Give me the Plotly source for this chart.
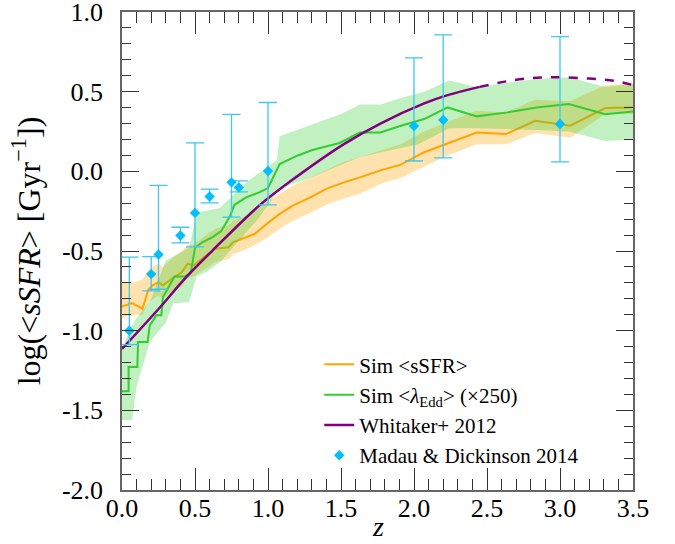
import plotly.graph_objects as go

# ---------------- data ----------------
# Sim <sSFR> (orange) mean line and band
ssfr_z = [0.00, 0.07, 0.14, 0.18, 0.21, 0.25, 0.28, 0.35, 0.41, 0.45, 0.49, 0.53, 0.59, 0.64,
          0.73, 0.76, 0.85, 0.91, 0.99, 1.08, 1.17, 1.29, 1.40, 1.52, 1.63, 1.77, 1.91, 2.07,
          2.23, 2.43, 2.63, 2.83, 3.07, 3.31, 3.50]
ssfr_v = [-0.848, -0.827, -0.862, -0.743, -0.716, -0.695, -0.716, -0.668, -0.633, -0.580,
          -0.591, -0.560, -0.518, -0.486, -0.476, -0.445, -0.413, -0.392, -0.330, -0.267,
          -0.215, -0.163, -0.110, -0.069, -0.038, 0.006, 0.042, 0.120, 0.175, 0.244, 0.234,
          0.317, 0.286, 0.397, 0.401]
ssfr_hi = [-0.69, -0.70, -0.68, -0.62, -0.60, -0.58, -0.60, -0.54, -0.50, -0.46, -0.46, -0.43,
           -0.39, -0.36, -0.34, -0.31, -0.28, -0.25, -0.20, -0.14, -0.09, -0.04, 0.01, 0.06,
           0.09, 0.13, 0.17, 0.25, 0.31, 0.38, 0.37, 0.45, 0.44, 0.54, 0.55]
ssfr_lo = [-0.92, -0.90, -0.90, -0.82, -0.80, -0.78, -0.80, -0.75, -0.72, -0.67, -0.66, -0.64,
           -0.60, -0.57, -0.55, -0.52, -0.49, -0.46, -0.42, -0.36, -0.31, -0.26, -0.21, -0.17,
           -0.14, -0.08, -0.04, 0.03, 0.10, 0.17, 0.17, 0.24, 0.21, 0.36, 0.36]

# Sim <lambda_Edd> (x250) (green) mean line
edd_z = [0.00, 0.045, 0.045, 0.105, 0.11, 0.175, 0.19, 0.235, 0.27, 0.28, 0.36, 0.43, 0.47,
         0.50, 0.55, 0.62, 0.68, 0.74, 0.77, 0.85, 0.94, 1.00, 1.08, 1.20, 1.29, 1.33, 1.49,
         1.63, 1.77, 1.91, 2.07, 2.23, 2.43, 2.64, 2.84, 3.06, 3.31, 3.50]
edd_v = [-1.38, -1.38, -1.228, -1.228, -1.071, -1.071, -0.967, -0.904, -0.904, -0.79, -0.66,
         -0.66, -0.64, -0.48, -0.445, -0.413, -0.375, -0.28, -0.21, -0.163, -0.132, -0.105,
         0.046, 0.098, 0.129, 0.14, 0.178, 0.244, 0.244, 0.286, 0.328, 0.401, 0.345, 0.37,
         0.401, 0.422, 0.359, 0.376]
# green band edges
edd_hi_z = [0.00, 0.05, 0.10, 0.20, 0.30, 0.46, 0.51, 0.67, 0.85, 1.06, 1.08, 1.29, 1.50,
            1.63, 1.77, 1.91, 2.07, 2.24, 2.43, 2.84, 3.06, 3.31, 3.50]
edd_hi_v = [-1.12, -1.00, -0.92, -0.80, -0.56, -0.48, -0.26, -0.23, -0.07, 0.07, 0.22, 0.29,
            0.36, 0.42, 0.42, 0.46, 0.50, 0.57, 0.53, 0.58, 0.59, 0.53, 0.55]
edd_lo_z = [0.00, 0.07, 0.10, 0.19, 0.30, 0.35, 0.46, 0.51, 0.58, 0.67, 0.94, 1.08, 1.29,
            1.63, 2.03, 2.24, 2.43, 2.84, 3.06, 3.31, 3.50]
edd_lo_v = [-1.56, -1.56, -1.35, -1.07, -0.95, -0.83, -0.82, -0.66, -0.63, -0.57, -0.29,
            -0.11, -0.04, 0.09, 0.17, 0.27, 0.27, 0.26, 0.25, 0.19, 0.20]

# Whitaker+ 2012 (solid within data range, dashed extrapolation)
whit_z = [0.00, 0.25, 0.44, 0.62, 0.94, 1.16, 1.52, 1.77, 2.07, 2.23, 2.45]
whit_v = [-1.115, -0.864, -0.664, -0.497, -0.215, -0.058, 0.171, 0.300, 0.426, 0.478, 0.530]
whit_ext_z = [2.45, 2.68, 2.87, 3.05, 3.37, 3.50]
whit_ext_v = [0.530, 0.572, 0.589, 0.589, 0.568, 0.541]

# Madau & Dickinson 2014
md_z = [0.05, 0.20, 0.25, 0.40, 0.50, 0.60, 0.75, 0.80, 1.00, 2.00, 2.20, 3.00]
md_v = [-1.000, -0.645, -0.522, -0.403, -0.261, -0.158, -0.069, -0.101, 0.002, 0.284, 0.322, 0.297]
md_hi = [-0.539, -0.535, -0.088, -0.351, 0.179, -0.112, 0.357, -0.060, 0.432, 0.712, 0.856, 0.845]
md_lo = [-1.088, -0.750, -0.740, -0.449, -0.474, -0.198, -0.288, -0.129, -0.211, 0.065, 0.084, 0.059]

y_ticks = [-2.0, -1.5, -1.0, -0.5, 0.0, 0.5, 1.0]
y_tick_labels = ["-2.0", "-1.5", "-1.0", "-0.5", "0.0", "0.5", "1.0"]
x_ticks = [0.0, 0.5, 1.0, 1.5, 2.0, 2.5, 3.0, 3.5]
x_tick_labels = ["0.0", "0.5", "1.0", "1.5", "2.0", "2.5", "3.0", "3.5"]

# ---------------- styles ----------------
FONT = "Liberation Serif, Times New Roman, serif"
ORANGE = "#FFA500"
GREEN = "#33CC33"
PURPLE = "#800080"
BLUE = "#00BFFF"
ERR = "#3CC8F0"

fig = go.Figure()

fig.add_trace(go.Scatter(
    x=ssfr_z + ssfr_z[::-1], y=ssfr_hi + ssfr_lo[::-1],
    fill="toself", fillcolor="rgba(255,165,0,0.32)", line=dict(width=0),
    mode="lines", showlegend=False, hoverinfo="skip"))
fig.add_trace(go.Scatter(
    x=ssfr_z, y=ssfr_v, mode="lines", line=dict(color=ORANGE, width=2),
    name="Sim &lt;sSFR&gt;"))

fig.add_trace(go.Scatter(
    x=edd_hi_z + edd_lo_z[::-1], y=edd_hi_v + edd_lo_v[::-1],
    fill="toself", fillcolor="rgba(50,205,50,0.30)", line=dict(width=0),
    mode="lines", showlegend=False, hoverinfo="skip"))
fig.add_trace(go.Scatter(
    x=edd_z, y=edd_v, mode="lines", line=dict(color=GREEN, width=2),
    name="Sim &lt;<i>λ</i><sub>Edd</sub>&gt; (×250)"))

fig.add_trace(go.Scatter(
    x=whit_z, y=whit_v, mode="lines", line=dict(color=PURPLE, width=2.5, shape="spline"),
    name="Whitaker+ 2012"))
fig.add_trace(go.Scatter(
    x=whit_ext_z, y=whit_ext_v, mode="lines",
    line=dict(color=PURPLE, width=2.5, dash="dash", shape="spline"),
    showlegend=False))

fig.add_trace(go.Scatter(
    x=md_z, y=md_v, mode="markers",
    marker=dict(symbol="diamond", size=8, color=BLUE),
    error_y=dict(type="data", symmetric=False,
                 array=[h - v for h, v in zip(md_hi, md_v)],
                 arrayminus=[v - l for v, l in zip(md_v, md_lo)],
                 color=ERR, thickness=1.3, width=9),
    name="Madau &amp; Dickinson 2014"))

axis_common = dict(
    showline=True, linecolor="#666666", linewidth=1.5, mirror="ticks",
    ticks="inside", tickcolor="#333333", tickwidth=1.2,
    showgrid=False, zeroline=False,
    ticklabeloverflow="allow", automargin=False,
    tickfont=dict(family=FONT, size=26, color="black"),
)

fig.update_xaxes(
    range=[0, 3.5], tickvals=x_ticks, ticktext=x_tick_labels, ticklen=22,
    minor=dict(ticks="inside", ticklen=11, dtick=0.1, tickcolor="#333333", tickwidth=1.2, showgrid=False),
    ticklabelstandoff=-6,
    **axis_common)
fig.update_yaxes(
    range=[-2, 1], tickvals=y_ticks, ticktext=y_tick_labels, ticklen=17,
    minor=dict(ticks="inside", ticklen=9, dtick=0.1, tickcolor="#333333", tickwidth=1.2, showgrid=False),
    title=dict(text="log(&lt;<i>sSFR</i>&gt; [Gyr<sup>−1</sup>])",
               font=dict(family=FONT, size=32, color="black"), standoff=12),
    ticklabelstandoff=12,
    **axis_common)

# x-axis title placed just below the tick labels
fig.add_annotation(
    text="<i>z</i>", xref="paper", yref="paper", x=0.5, y=-0.1127,
    xanchor="center", yanchor="bottom", showarrow=False,
    font=dict(family=FONT, size=28, color="black"))

fig.update_layout(
    width=675, height=544,
    margin=dict(l=122, r=42, t=12, b=54),
    paper_bgcolor="white", plot_bgcolor="white",
    font=dict(family=FONT, color="black"),
    showlegend=True,
    legend=dict(x=0.386, y=0.305, xanchor="left", yanchor="top",
                bgcolor="rgba(0,0,0,0)", borderwidth=0,
                font=dict(family=FONT, size=21, color="black"),
                itemwidth=30, tracegroupgap=0),
)

fig.write_html("out.html")
